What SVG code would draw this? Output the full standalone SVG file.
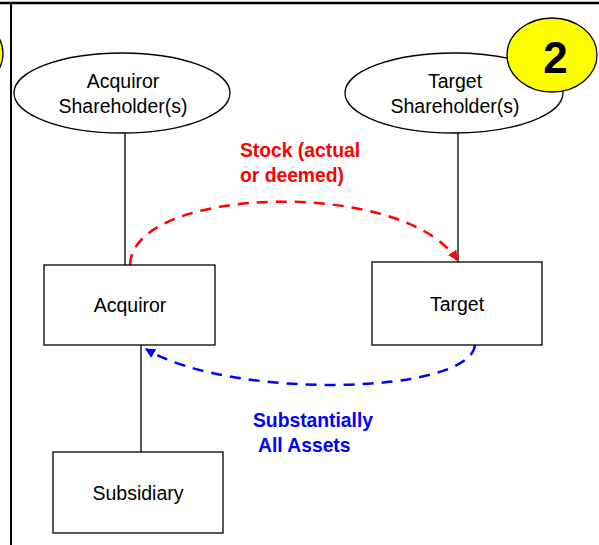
<svg xmlns="http://www.w3.org/2000/svg" width="599" height="545" viewBox="0 0 599 545">
<defs>
<style>
.n{fill:#fff;stroke:#000;stroke-width:1.3}
.t{font-family:"Liberation Sans",Arial,sans-serif;font-size:19.5px;text-anchor:middle;fill:#000}
.b{font-family:"Liberation Sans",Arial,sans-serif;font-size:19.3px;font-weight:bold}
.ln{stroke:#000;stroke-width:1.3;fill:none}
.badge{fill:#ffff00;stroke:#000;stroke-width:1.3}
</style>
<marker id="ar" viewBox="0 0 10 10" refX="9" refY="5" markerWidth="10" markerHeight="10" markerUnits="userSpaceOnUse" orient="auto"><path d="M0,0L10,5L0,10z" fill="#ff0000"/></marker>
<marker id="ab" viewBox="0 0 10 10" refX="9" refY="5" markerWidth="10" markerHeight="10" markerUnits="userSpaceOnUse" orient="auto"><path d="M0,0L10,5L0,10z" fill="#0000ff"/></marker>
</defs>
<rect width="599" height="545" fill="#fff"/>
<g id="frame">
<line x1="0" y1="3" x2="599" y2="3" stroke="#000" stroke-width="2.5"/>
<line x1="11" y1="3" x2="11" y2="545" stroke="#000" stroke-width="2"/>
<ellipse cx="-42" cy="53.5" rx="45" ry="37" class="badge"/>
</g>
<g id="connectors">
<line class="ln" x1="125" y1="133" x2="125" y2="265"/>
<line class="ln" x1="458" y1="133" x2="458" y2="262"/>
<line class="ln" x1="141" y1="345" x2="141" y2="452"/>
<path d="M130,265 C132,185 405,178 457,260" fill="none" stroke="#ff0000" stroke-width="2.5" stroke-dasharray="11,8" marker-end="url(#ar)"/>
<path d="M475,345 C470,395 230,400 146,349" fill="none" stroke="#0000ff" stroke-width="2.5" stroke-dasharray="11,8" marker-end="url(#ab)"/>
</g>
<g id="acq-sh">
<ellipse class="n" cx="122" cy="93" rx="108" ry="40"/>
<text class="t" x="123" y="88">Acquiror</text>
<text class="t" x="123" y="113">Shareholder(s)</text>
</g>
<g id="tgt-sh">
<ellipse class="n" cx="454" cy="93" rx="109" ry="40"/>
<text class="t" x="455" y="88">Target</text>
<text class="t" x="455" y="113">Shareholder(s)</text>
</g>
<g id="badge2">
<ellipse cx="552" cy="55" rx="45" ry="37" class="badge"/>
<text x="555.5" y="73" style="font-family:'Liberation Sans',Arial,sans-serif;font-size:44px;font-weight:bold;text-anchor:middle">2</text>
</g>
<g id="acquiror">
<rect class="n" x="44" y="265" width="171" height="80"/>
<text class="t" x="130" y="312">Acquiror</text>
</g>
<g id="target">
<rect class="n" x="372" y="262" width="170" height="83"/>
<text class="t" x="457" y="311">Target</text>
</g>
<g id="subsidiary">
<rect class="n" x="53" y="452" width="170" height="81"/>
<text class="t" x="138" y="500">Subsidiary</text>
</g>
<g id="labels">
<text class="b" fill="#ff0000" x="240" y="157">Stock (actual</text>
<text class="b" fill="#ff0000" x="240" y="182">or deemed)</text>
<text class="b" fill="#0000ff" x="253" y="427">Substantially</text>
<text class="b" fill="#0000ff" x="258" y="452">All Assets</text>
</g>
</svg>
